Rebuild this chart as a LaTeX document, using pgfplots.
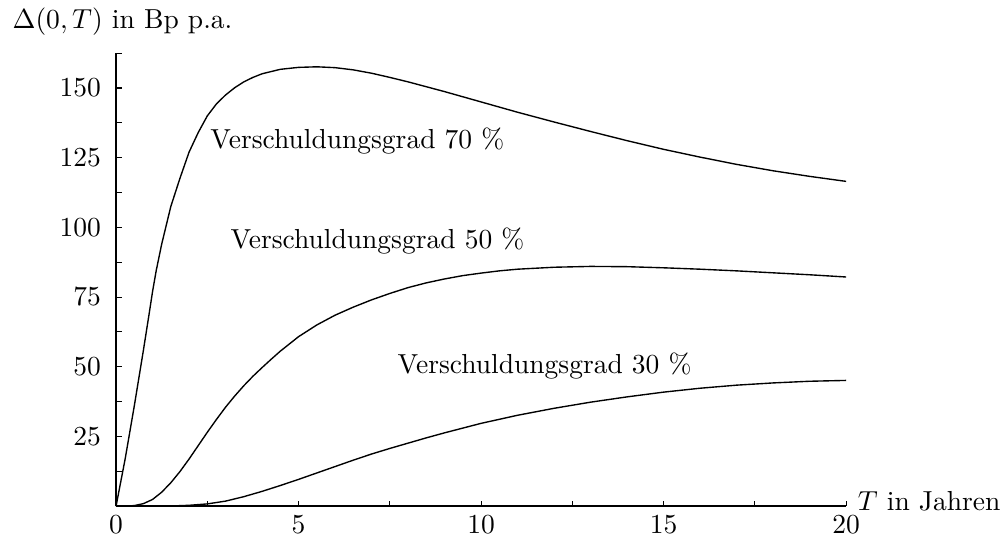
\documentclass[border=0pt]{standalone}
\usepackage{pgfplots}
\pgfplotsset{compat=1.18}
\begin{document}
\begin{tikzpicture}
\begin{axis}[name=ax, scale only axis, width=265.45pt, height=164.7pt,
  xmin=0, xmax=20, ymin=0, ymax=162.5,
  axis lines=left, axis line style={-, line width=0.5pt},
  xtick={0,5,10,15,20}, minor xtick={2.5,7.5,12.5,17.5},
  ytick={25,50,75,100,125,150}, minor ytick={12.5,37.5,62.5,87.5,112.5,137.5,162.5},
  tick align=inside, major tick length=2pt, minor tick length=2pt,
  tick style={black, line width=0.4pt},
  yticklabel style={xshift=-2pt},
  clip=false]
% 70 %
\addplot[black, line width=0.5pt] coordinates {
(0,0) (0.25,17) (0.5,36) (0.75,56) (0.9,68.5) (1.0,77) (1.1,84.5) (1.25,94) (1.5,107.5)
(1.75,117.6) (2.0,127) (2.25,134) (2.5,140) (2.75,144.3) (3.0,147.5) (3.25,150.1)
(3.5,152.2) (3.75,153.8) (4.0,155.1) (4.5,156.7) (5.0,157.4) (5.5,157.6) (6.0,157.3)
(6.5,156.5) (7.0,155.3) (7.5,153.8) (8.0,152.2) (9.0,148.7) (10.0,145) (11.0,141.3)
(12.0,137.8) (13.0,134.4) (14.0,131.1) (15.0,128) (16.0,125.2) (17.0,122.6)
(18.0,120.3) (19.0,118.3) (20.0,116.5)};
% 50 %
\addplot[black, line width=0.5pt] coordinates {
(0,0) (0.25,0) (0.5,0.2) (0.75,0.9) (1.0,2.4) (1.25,5) (1.5,8.4) (1.75,12.4)
(2.0,16.9) (2.25,21.7) (2.5,26.5) (2.75,31.1) (3.0,35.5) (3.25,39.5) (3.5,43.2)
(3.75,46.6) (4.0,49.7) (4.25,52.7) (4.5,55.6) (5.0,60.8) (5.5,65) (6.0,68.5)
(6.5,71.4) (7.0,74) (7.5,76.3) (8.0,78.4) (8.5,80.1) (9.0,81.5) (9.5,82.7)
(10.0,83.6) (10.5,84.4) (11.0,85) (12.0,85.7) (13.0,86) (14.0,85.9) (15.0,85.5)
(16.0,85) (17.0,84.4) (18.0,83.7) (19.0,83) (20.0,82.2)};
% 30 %
\addplot[black, line width=0.5pt] coordinates {
(0,0) (1,0) (1.5,0.05) (2,0.3) (2.5,0.8) (3,1.8) (3.5,3.4) (4,5.3) (4.5,7.4)
(5,9.6) (5.5,11.9) (6,14.2) (6.5,16.5) (7,18.7) (7.5,20.7) (8,22.6) (8.5,24.5)
(9,26.3) (9.5,28) (10,29.7) (11,32.6) (12,35.1) (13,37.3) (14,39.2) (15,40.9)
(16,42.3) (17,43.4) (18,44.2) (19,44.8) (20,45.1)};
\node[anchor=base west, inner sep=0] at (axis cs:2.57,128.3) {Verschuldungsgrad 70 \%};
\node[anchor=base west, inner sep=0] at (axis cs:3.12,92.5) {Verschuldungsgrad 50 \%};
\node[anchor=base west, inner sep=0] at (axis cs:7.7,47.7) {Verschuldungsgrad 30 \%};
\end{axis}
\node[anchor=base west, inner sep=0] at ([xshift=-37.8pt, yshift=173.8pt]ax.south west) {$\Delta(0,T)$ in Bp p.a.};
\node[anchor=base west, inner sep=0] at ([xshift=269.5pt, yshift=-1.45pt]ax.south west) {$T$ in Jahren};
\path ([xshift=-42.2pt, yshift=-11.27pt]ax.south west) rectangle ++(366.5pt,195.3pt);
\end{tikzpicture}
\end{document}
